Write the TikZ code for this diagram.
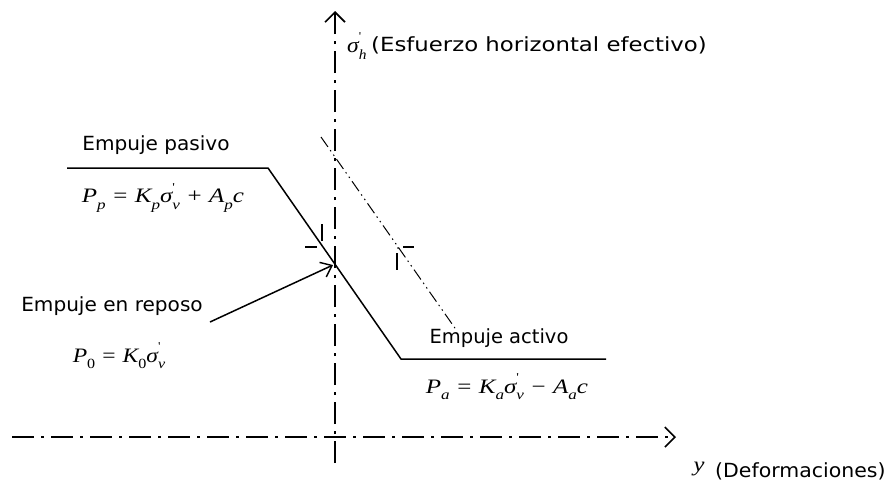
\documentclass[tikz,border=0pt]{standalone}
\usepackage{graphicx}
\usepackage{fontspec}
\setmainfont{DejaVu Sans}
\newfontfamily\tms{Liberation Serif}
\usetikzlibrary{arrows.meta}
\newcommand\sbs[1]{\raisebox{-0.32em}{\fontsize{14}{14}\selectfont\itshape #1}}
\newcommand\sbu[1]{\raisebox{-0.32em}{\fontsize{14}{14}\selectfont\upshape #1}}
\newcommand\prm{\rlap{\raisebox{0.55em}{\fontsize{12}{12}\selectfont\upshape '}}}
\newcommand\opr[1]{\hspace{0.3em}{\upshape #1}\hspace{0.3em}}
\newcommand\xs[2]{\scalebox{#1}[1]{#2}}
\begin{document}
\begin{tikzpicture}[x=1pt,y=-1pt,
  lbl/.style={inner sep=0pt,font=\fontsize{19.5}{23}\selectfont},
  eqn/.style={inner sep=0pt,font=\tms\itshape\fontsize{20.5}{24}\selectfont},
  axisline/.style={line width=2.2pt,dash pattern=on 22pt off 7pt on 3pt off 7pt},
  curve/.style={line width=1.5pt},
  shifted/.style={line width=1pt,dash pattern=on 12pt off 4pt on 1.5pt off 4pt on 1.5pt off 4pt},
  tick/.style={line width=1.3pt},
  axtip/.style={-{Straight Barb[length=10pt,width=20pt,line width=1.6pt]}},
  reptip/.style={-{Straight Barb[length=10pt,width=16pt,line width=1.4pt]}}]
\useasboundingbox (0,0) rectangle (891,491);
% axes
\coordinate (vtop) at (335,11);
\coordinate (vbot) at (335,463);
\coordinate (hleft) at (12,437);
\coordinate (hright) at (676,437);
\draw[axisline,axtip] (vbot) -- (vtop);
\draw[axisline,axtip] (hleft) -- (hright);
% main curve
\coordinate (p1) at (67,168);
\coordinate (p2) at (268,168);
\coordinate (p3) at (401,359);
\coordinate (p4) at (606,359);
\draw[curve] (p1) -- (p2) -- (p3) -- (p4);
% shifted line
\coordinate (s1) at (321,137);
\coordinate (s2) at (457,331);
\draw[shifted] (s1) -- (s2);
% ticks
\draw[tick] (305,247) -- (317,247);
\draw[tick] (322,224) -- (322,241);
\draw[tick] (403,247) -- (414,247);
\draw[tick] (397,253) -- (397,270);
\fill (398,248) circle (0.8pt);
% rest arrow
\coordinate (rest) at (333,265);
\coordinate (reststart) at (210,322);
\draw[line width=1.5pt,reptip] (reststart) -- (rest);
% labels
\node[inner sep=0pt,anchor=west,font=\tms\itshape\fontsize{21.5}{24}\selectfont] (sigh) at (347,46) {\xs{1.1}{σ\prm\sbs{h}}};
\node[lbl,anchor=west] (sig) at (371,45) {\xs{1.17}{(Esfuerzo horizontal efectivo)}};
\node[lbl] (pas) at (156,145) {\xs{1.03}{Empuje pasivo}};
\node[eqn] (pp) at (163,198) {\xs{1.22}{P\sbs{p}\opr{=}K\sbs{p}σ\prm\sbs{v}\opr{+}A\sbs{p}c}};
\node[lbl] (rep) at (112,306) {\xs{1.03}{Empuje en reposo}};
\node[eqn] (p0) at (119,356) {\xs{1.15}{P\sbu{0}\opr{=}K\sbu{0}σ\prm\sbs{v}}};
\node[lbl] (act) at (499,338) {\xs{1.0}{Empuje activo}};
\node[eqn] (pa) at (507,387) {\xs{1.22}{P\sbs{a}\opr{=}K\sbs{a}σ\prm\sbs{v}\opr{−}A\sbs{a}c}};
\node[inner sep=0pt,font=\tms\itshape\fontsize{20.5}{24}\selectfont] (yv) at (699,469) {\xs{1.2}{y}};
\node[lbl,anchor=west] (def) at (715,471) {\xs{1.05}{(Deformaciones)}};
\end{tikzpicture}
\end{document}
